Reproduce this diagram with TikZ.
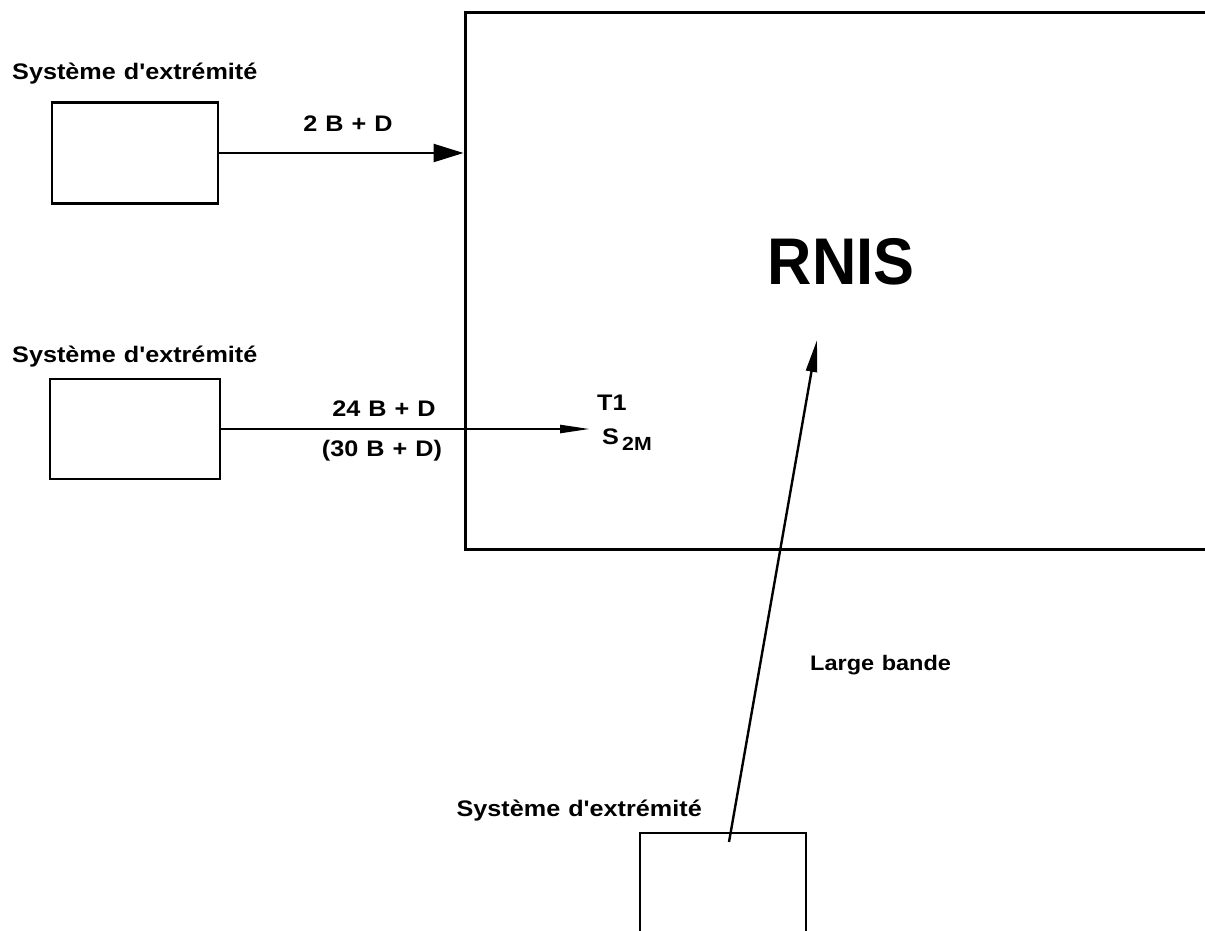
\documentclass[tikz,border=0pt]{standalone}
\usepackage{fontspec}
\setmainfont{Liberation Sans}
\newfontfamily\lblfont{Liberation Sans}[FakeStretch=1.12, WordSpace=1.15]
\newfontfamily\bigfont{Liberation Sans}[FakeStretch=0.93]
\usetikzlibrary{arrows.meta}
\tikzset{
  sysbox/.style={draw, line width=2.6pt, minimum width=166pt, minimum height=101pt, inner sep=0pt},
  lbl/.style={font=\lblfont\bfseries\fontsize{22.5}{26}\selectfont, inner sep=0pt},
  flow/.style={line width=2.4pt},
}
\begin{document}
\begin{tikzpicture}[x=1pt,y=-1pt]
\useasboundingbox (0,0) rectangle (1205,931);
\clip (0,0) rectangle (1205,931);
% network box
\node[draw, line width=3pt, minimum width=760pt, minimum height=536pt, inner sep=0pt] (net) at (845,281) {};
\node[font=\bigfont\bfseries\fontsize{66}{72}\selectfont, inner sep=0pt] (rnis) at (841,262) {RNIS};
% end systems
\node[sysbox] (s1) at (135,153) {};
\node[sysbox, minimum width=170pt, minimum height=100pt] (s2) at (135,429) {};
\node[sysbox, minimum height=130pt] (s3) at (723,898) {};
\node[lbl, anchor=west] (l1) at (12,74) {Système d'extrémité};
\node[lbl, anchor=west] (l2) at (12,357) {Système d'extrémité};
\node[lbl, anchor=east] (l3) at (702,811) {Système d'extrémité};
% arrow 1
\draw[flow, -{Triangle[length=30pt,width=18pt]}] (s1.east) -- (s1.east -| net.west);
\node[lbl] (a1) at (348,124) {2 B + D};
% arrow 2
\coordinate (t1end) at (590,429);
\draw[flow, -{Triangle[length=30pt,width=8pt]}] (s2.east) -- (t1end);
\node[lbl] (a2) at (384,409) {24 B + D};
\node[lbl] (a3) at (382,451) {(30 B + D)};
\node[lbl, anchor=west] (t1) at (597,403) {T1};
\node[lbl, anchor=west] (s2m) at (602,440) {S\raisebox{-6pt}{\fontsize{19}{21}\selectfont\,2M}};
% arrow 3
\coordinate (bstart) at (729,842);
\coordinate (bend) at (817,340);
\draw[flow, -{Triangle[length=32pt,width=11pt]}] (bstart) -- (bend);
\node[lbl, anchor=west, font=\lblfont\bfseries\fontsize{21}{24}\selectfont] (lb) at (810,665) {Large bande};
\end{tikzpicture}
\end{document}
